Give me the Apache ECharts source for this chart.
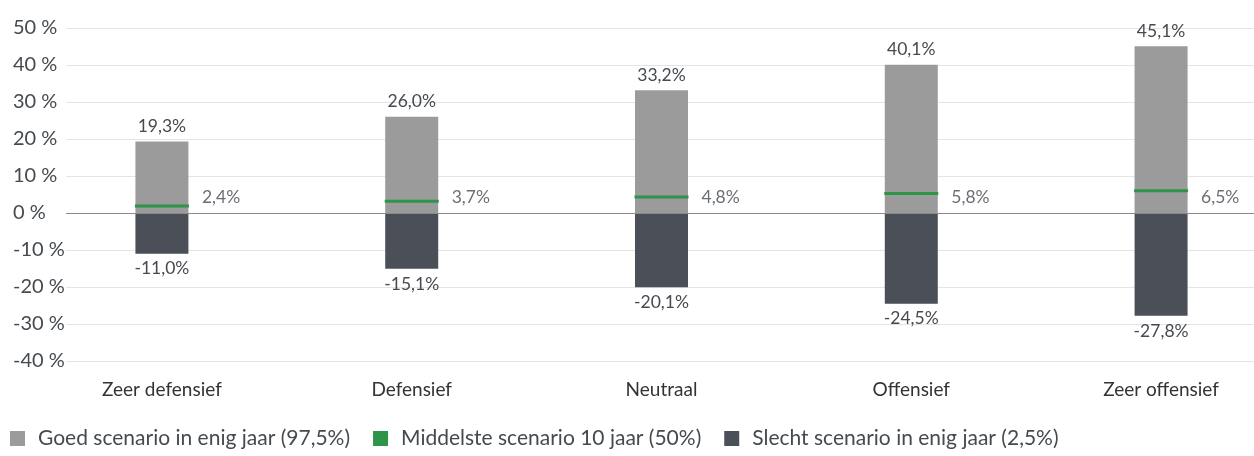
<!DOCTYPE html>
<html>
<head>
<meta charset="utf-8">
<script src="https://cdn.jsdelivr.net/npm/echarts@6/dist/echarts.min.js"></script>
<style>
  html, body { margin: 0; padding: 0; background: #fff; }
  #chart { width: 1254px; height: 456px; }
</style>
</head>
<body>
<div id="chart"></div>
<script>
  // scenario profiles
  const categories = ['Zeer defensief', 'Defensief', 'Neutraal', 'Offensief', 'Zeer offensief'];
  const goodValues = [19.3, 26.0, 33.2, 40.1, 45.1];
  const middleValues = [2.4, 3.7, 4.8, 5.8, 6.5];
  const badValues = [-11.0, -15.1, -20.1, -24.5, -27.8];
  const seriesNames = [
    'Goed scenario in enig jaar (97,5%)',
    'Middelste scenario 10 jaar (50%)',
    'Slecht scenario in enig jaar (2,5%)'
  ];
  const yTicks = [-40, -30, -20, -10, 0, 10, 20, 30, 40, 50];

  const fmt = v => v.toFixed(1).replace('.', ',') + '%';
  const txt = '#454a50';
  const font = 'Lato, "Open Sans", sans-serif';

  let chart = echarts.init(document.getElementById('chart'));
  chart.setOption({
    animation: false,
    textStyle: { fontFamily: font },
    grid: { left: 66, right: 0, top: 28, bottom: 95 },
    legend: {
      bottom: 2,
      left: 5,
      icon: 'rect',
      itemWidth: 15,
      itemHeight: 15,
      itemGap: 23,
      textStyle: { fontSize: 21, color: txt, fontFamily: font, padding: [0, 0, 0, 8] },
      data: seriesNames
    },
    xAxis: {
      type: 'value',
      min: -0.384,
      max: 4.372,
      splitLine: { show: false },
      axisLine: { show: false },
      axisTick: { show: false },
      axisLabel: {
        customValues: [0, 1, 2, 3, 4],
        formatter: v => categories[Math.round(v)],
        fontSize: 19,
        color: '#333',
        margin: 19
      }
    },
    yAxis: {
      type: 'value',
      min: yTicks[0],
      max: yTicks[yTicks.length - 1],
      interval: 10,
      axisLine: { show: false },
      axisTick: { show: false },
      splitLine: { lineStyle: { color: '#e4e4e4', width: 1 } },
      axisLabel: {
        formatter: v => v + ' %',
        align: 'left',
        margin: 53,
        fontSize: 20,
        color: txt
      }
    },
    series: [
      {
        name: seriesNames[0],
        type: 'bar',
        barWidth: 53,
        barGap: '-100%',
        itemStyle: { color: '#9a9b9a' },
        data: goodValues.map((v, i) => [i, v]),
        label: {
          show: true,
          position: 'top',
          distance: 6,
          fontSize: 17.5,
          color: txt,
          formatter: p => fmt(p.value[1])
        },
        markLine: {
          silent: true,
          symbol: 'none',
          label: { show: false },
          lineStyle: { color: '#8a8a8a', width: 1, type: 'solid' },
          data: [{ yAxis: 0 }]
        },
        z: 2
      },
      {
        name: seriesNames[2],
        type: 'bar',
        barWidth: 53,
        barGap: '-100%',
        itemStyle: { color: '#4b5058' },
        data: badValues.map((v, i) => [i, v]),
        label: {
          show: true,
          position: 'bottom',
          distance: 6,
          fontSize: 17.5,
          color: txt,
          formatter: p => fmt(p.value[1])
        },
        z: 2
      },
      {
        name: seriesNames[1],
        type: 'scatter',
        symbol: 'rect',
        symbolSize: [54, 3],
        itemStyle: { color: '#2e9448', opacity: 1 },
        data: middleValues.map((v, i) => [i, v - 0.5]),
        z: 5
      },
      {
        // labels for the middle scenario sit at a fixed height right of the bar
        type: 'scatter',
        symbolSize: 0,
        silent: true,
        data: middleValues.map((v, i) => [i, 4.3]),
        label: {
          show: true,
          position: 'right',
          distance: 40,
          fontSize: 17.5,
          color: txt,
          formatter: p => fmt(middleValues[p.dataIndex])
        },
        z: 5
      }
    ]
  });
</script>
</body>
</html>
